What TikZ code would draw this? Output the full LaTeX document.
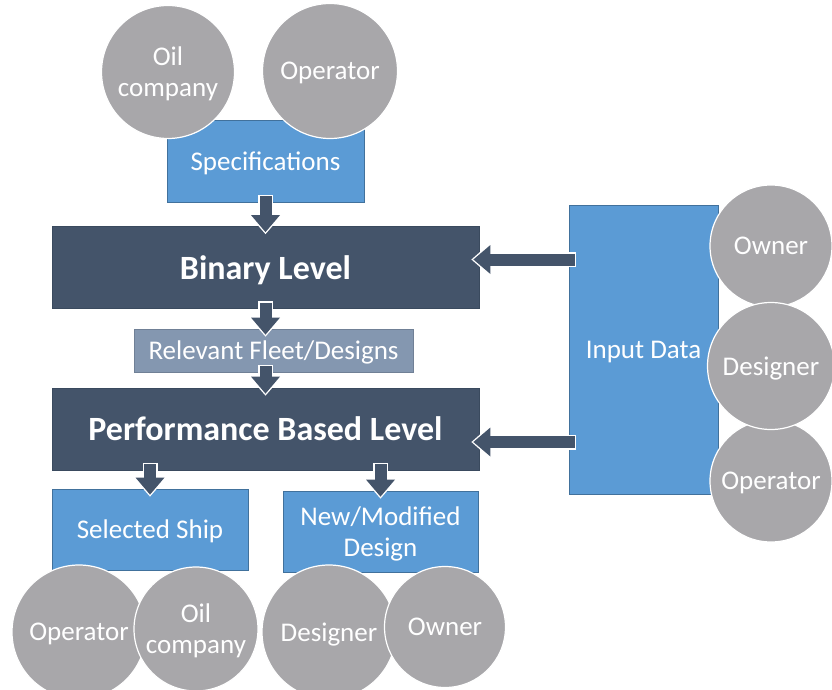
\documentclass[tikz,border=0pt]{standalone}
\usepackage{fontspec}
\setmainfont{Carlito}
\usetikzlibrary{arrows.meta}

\definecolor{slate}{HTML}{44546A}
\definecolor{slateedge}{HTML}{3A4A5E}
\definecolor{boxblue}{HTML}{5B9BD5}
\definecolor{boxedge}{HTML}{41719C}
\definecolor{fleetblue}{HTML}{8497B0}
\definecolor{whogray}{HTML}{A8A7AA}

\begin{document}
\begin{tikzpicture}[x=1pt,y=-1pt,
    blk/.style={fill=boxblue, draw=boxedge, line width=0.8pt, text=white, align=center,
        inner sep=0pt, text depth=0pt, font=\fontsize{27}{31}\selectfont},
    lvl/.style={fill=slate, draw=slateedge, line width=0.8pt, text=white, inner sep=0pt,
        text depth=0pt, minimum width=427pt, minimum height=82pt,
        font=\bfseries\fontsize{34}{38}\selectfont},
    who/.style={circle, fill=whogray, draw=white, line width=1.2pt, text=white, inner sep=0pt,
        align=center, text depth=0pt, minimum size=#1, font=\fontsize{27}{31}\selectfont},
    flow/.style={draw=slate, line width=12pt, shorten <=-6pt, shorten >=-6pt,
        -{Triangle[length=17pt, width=29pt, line width=0pt]},
        preaction={draw=white, line width=15pt, shorten <=-7.5pt, shorten >=-8pt,
            -{Triangle[length=20pt, width=35pt, line width=0pt]}}}]
    \useasboundingbox (0,0) rectangle (832,690);

    % boxes
    \node[blk, minimum width=197pt, minimum height=82pt] (spec) at (265.5,161) {Specifications};
    \node[lvl] (binary) at (265.5,267.5) {Binary Level};
    \node[blk, fill=fleetblue, draw=fleetblue!85!black, minimum width=279pt, minimum height=43pt] (fleet) at (273.5,350.5) {Relevant Fleet/Designs};
    \node[lvl] (perf) at (265.5,429) {Performance Based Level};
    \node[blk, minimum width=196pt, minimum height=81pt] (ship) at (150,529.5) {Selected Ship};
    \node[blk, minimum width=195pt, minimum height=81pt] (design) at (380.5,531.5) {New/Modified\\Design};
    \node[blk, minimum width=149pt, minimum height=289pt] (input) at (643.5,349.5) {Input Data};

    % arrows
    \draw[flow] (spec.south) -- (binary.north);
    \draw[flow] (binary.south) -- (binary.south |- fleet.north);
    \draw[flow] (binary.south |- fleet.south) -- (perf.north);
    \draw[flow] (perf.south -| ship.north) -- (ship.north);
    \draw[flow] (perf.south -| design.north) -- (design.north);
    \draw[flow] ([yshift=8pt]binary.east -| input.west) -- ([yshift=8pt]binary.east);
    \draw[flow] ([yshift=-13pt]perf.east -| input.west) -- ([yshift=-13pt]perf.east);

    % people
    \node[who=133pt] (oilT) at (168,72) {Oil\\company};
    \node[who=135pt] (opT) at (330,71) {Operator};
    \foreach \n/\t/\y/\d in {ownR/Owner/246/122, opR/Operator/481/122, desR/Designer/366/127}
        \node[who=\d pt] (\n) at (771,\y) {\t};
    \foreach \n/\t/\x/\y/\d in {opB/Operator/79/632/134, oilB/Oil\\company/196/629/124,
        desB/Designer/329/632/134, ownB/Owner/445/627/121}
        \node[who=\d pt] (\n) at (\x,\y) {\t};
\end{tikzpicture}
\end{document}
